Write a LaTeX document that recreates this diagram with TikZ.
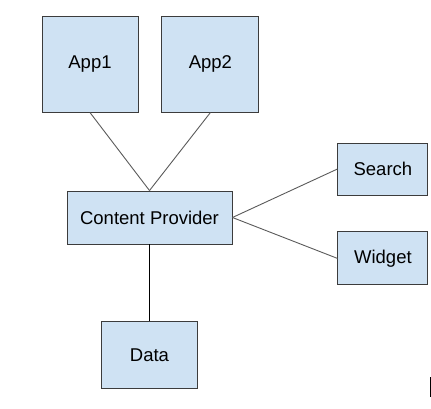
\documentclass[tikz,border=0pt]{standalone}
\usepackage{fontspec}
\setmainfont{Liberation Sans}
\usepackage{tikz}
\usetikzlibrary{positioning}
\definecolor{cbox}{HTML}{CFE2F3}
\definecolor{cedge}{HTML}{3C3C3C}
\definecolor{clink}{HTML}{5A5A5A}
\tikzset{
  box/.style={rectangle, draw=cedge, line width=0.9pt, fill=cbox,
    align=center, inner sep=2pt, font=\fontsize{18.5}{22}\selectfont},
  link/.style={draw=clink, line width=0.9pt},
}

\begin{document}
\begin{tikzpicture}
  \useasboundingbox (0,0) rectangle (431pt,-409pt);
  \node[box, minimum width=165pt, minimum height=53pt] (cp) at (149.5pt,-217.5pt) {Content Provider};
  \node[box, minimum width=96pt, minimum height=96pt, above=78pt of cp.north, xshift=-59.5pt] (app1) {App1};
  \node[box, minimum width=97pt, minimum height=96pt, right=23pt of app1] (app2) {App2};
  \node[box, minimum width=90pt, minimum height=52pt, right=105pt of cp.east, yshift=48.5pt] (search) {Search};
  \node[box, minimum width=90pt, minimum height=53pt, below=36pt of search] (widget) {Widget};
  \node[box, minimum width=96pt, minimum height=67pt, below=77pt of cp] (data) {Data};

  \draw[link] (app1.south)--(cp.north); \draw[link] (app2.south)--(cp.north);
  \draw[link] (cp.east)--(search.west); \draw[link] (cp.east)--(widget.west);
  \draw[link, draw=black] (cp.south)--(data.north);
  % stray mark at the lower right
  \draw[line width=1pt] (430pt,-377pt)--(430pt,-397pt);
\end{tikzpicture}
\end{document}
